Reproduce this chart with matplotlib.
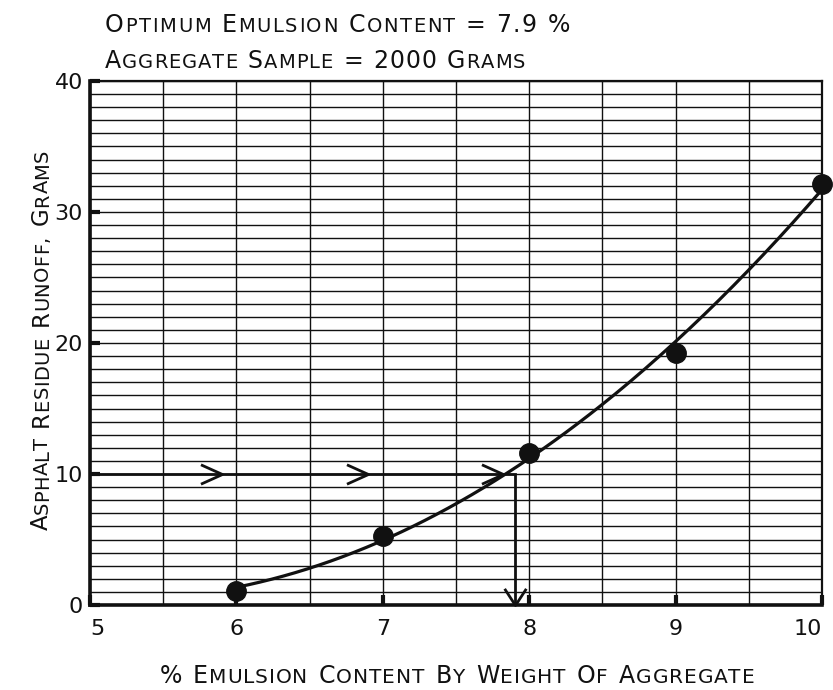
import matplotlib
matplotlib.use("Agg")
import matplotlib.pyplot as plt
from matplotlib.path import Path
import numpy as np

# Residue runoff (drain-down) test results
emulsion_pct = [6, 7, 8, 9, 10]
runoff_g = [1.1, 5.3, 11.6, 19.2, 32.1]
optimum_pct = 7.9
runoff_limit_g = 10

x_ticks = [5, 6, 7, 8, 9, 10]
y_ticks = [0, 10, 20, 30, 40]

title_lines = ["OPTIMUM EMULSION CONTENT = 7.9 %", "AGGREGATE SAMPLE = 2000 GRAMS"]
x_title = "% EMULSION CONTENT BY WEIGHT OF AGGREGATE"
y_title = "ASPHALT RESIDUE RUNOFF, GRAMS"

W, H, DPI = 833, 690, 100
INK = "#111111"
plt.rcParams["font.family"] = ["DejaVu Sans"]

fig = plt.figure(figsize=(W / DPI, H / DPI), dpi=DPI)
ax = fig.add_axes([90 / W, 1 - 605 / H, (822 - 90) / W, (605 - 81) / H])
ax.set_xlim(5, 10)
ax.set_ylim(0, 40)

# graph-paper grid: 0.5 % verticals, 1 g horizontals
ax.set_xticks(x_ticks)
ax.set_yticks(y_ticks)
ax.set_xticks(np.arange(5, 10.01, 0.5), minor=True)
ax.set_yticks(np.arange(0, 40.01, 1), minor=True)
ax.grid(which="both", color=INK, lw=1.0)
ax.set_axisbelow(True)
ax.tick_params(which="minor", length=0)
ax.tick_params(which="major", direction="in", length=7, width=3, color=INK,
               labelsize=16, labelcolor=INK)
ax.tick_params(axis="y", pad=5)
ax.tick_params(axis="x", pad=10)
xlabels = ax.get_xticklabels()
xlabels[0].set_ha("left")
xlabels[-1].set_ha("right")
for side in ("left", "bottom"):
    ax.spines[side].set_linewidth(2.6)
for side in ("top", "right"):
    ax.spines[side].set_linewidth(1.6)
for sp in ax.spines.values():
    sp.set_color(INK)

# fitted runoff curve and test points
coef = np.polyfit(emulsion_pct, runoff_g, 2)
xs = np.linspace(emulsion_pct[0], emulsion_pct[-1], 200)
ax.plot(xs, np.polyval(coef, xs), color=INK, lw=2.3, zorder=4)
ax.plot(emulsion_pct, runoff_g, "o", ms=14, color=INK, zorder=5, clip_on=False)

# construction line: limit runoff across to curve, then down to optimum
ax.plot([5, optimum_pct, optimum_pct], [runoff_limit_g, runoff_limit_g, 0],
        color=INK, lw=2.0, zorder=4, solid_joinstyle="miter")
chev_right = Path([(-1, 0.45), (0, 0), (-1, -0.45)],
                  [Path.MOVETO, Path.LINETO, Path.LINETO])
chev_down = Path([(-0.65, 1), (0, 0), (0.65, 1)],
                 [Path.MOVETO, Path.LINETO, Path.LINETO])
ax.plot([5.9, 6.9, 7.82], [runoff_limit_g] * 3, ls="none", marker=chev_right,
        ms=31, mfc="none", mec=INK, mew=2.0, zorder=4)
ax.plot([optimum_pct], [0], ls="none", marker=chev_down, ms=24, mfc="none",
        mec=INK, mew=2.0, zorder=4, clip_on=False)


def letter(text, x, y, large, small, length, rotation=0, align="left"):
    """Small-caps lettering spread over `length` pixels.

    x, y are pixels from the top-left corner, on the baseline. The first letter
    of each word and all non-letters are set large, other letters small.
    """
    r = fig.canvas.get_renderer()
    space = small * 0.55 * DPI / 72
    words = []
    for word in text.split(" "):
        glyphs = []
        for i, ch in enumerate(word):
            big = i == 0 or not (ch.isalpha() or ch == ",")
            t = fig.text(0, 0, ch, fontsize=large if big else small,
                         rotation=rotation, rotation_mode="anchor",
                         ha="left", va="baseline", color=INK)
            bb = t.get_window_extent(r)
            glyphs.append((t, bb.height if rotation == 90 else bb.width))
        words.append(glyphs)
    ink = sum(w for g in words for _, w in g)
    n_gaps = sum(len(g) - 1 for g in words)
    track = (length - ink - space * (len(words) - 1)) / max(n_gaps, 1)
    start = -length / 2 if align == "center" else 0.0
    cursor = start
    for wi, glyphs in enumerate(words):
        if wi:
            cursor += space
        for gi, (t, w) in enumerate(glyphs):
            if gi:
                cursor += track
            if rotation == 90:
                px, py = x, y - cursor
            else:
                px, py = x + cursor, y
            t.set_position((px / W, 1 - py / H))
            cursor += w


letter(title_lines[0], 105, 32, 17, 14, 465)
letter(title_lines[1], 105, 68, 17, 14, 420)
letter(x_title, 457, 683, 17, 14.5, 595, align="center")
letter(y_title, 48, 340, 16.5, 14, 380, rotation=90, align="center")

fig.savefig("out.png", dpi=DPI)
